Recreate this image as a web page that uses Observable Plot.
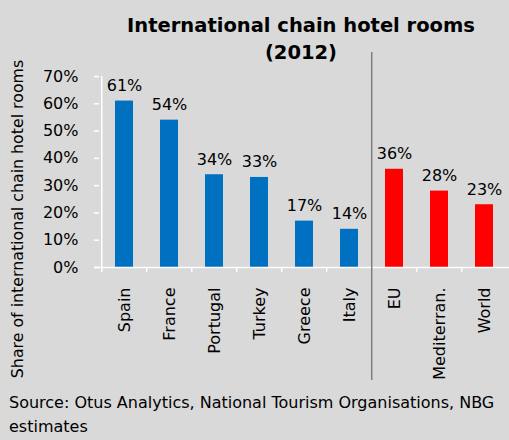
<!DOCTYPE html>
<html>
<head>
<meta charset="utf-8">
<script src="https://cdn.jsdelivr.net/npm/d3@7"></script>
<script src="https://cdn.jsdelivr.net/npm/@observablehq/plot@0.6"></script>
<style>
  html, body { margin: 0; padding: 0; background: #d9d9d9; }
  #wrap { position: relative; width: 509px; height: 440px; background: #d9d9d9; overflow: hidden; font-family: "DejaVu Sans", sans-serif; }
  #chart { position: absolute; left: 0; top: 0; }
  #title { position: absolute; left: 101px; width: 400px; top: 12px; text-align: center; font-weight: bold; font-size: 19.5px; line-height: 27px; color: #000; }
  #source { position: absolute; left: 9px; top: 391px; font-size: 16px; line-height: 24px; color: #000; white-space: nowrap; transform-origin: 0 0; }
</style>
</head>
<body>
<div id="wrap">
  <div id="chart"></div>
  <div id="title">International chain hotel rooms<br>(2012)</div>
  <div id="source">Source: Otus Analytics, National Tourism Organisations, NBG<br>estimates</div>
</div>
<script>
const categories = ["Spain", "France", "Portugal", "Turkey", "Greece", "Italy", "EU", "Mediterran.", "World"];
const values = [61, 54, 34, 33, 17, 14, 36, 28, 23];
const groups = ["country", "country", "country", "country", "country", "country", "aggregate", "aggregate", "aggregate"];
const yTicks = [0, 10, 20, 30, 40, 50, 60, 70];
const yLabel = "Share of international chain hotel rooms";

const data = categories.map((c, i) => ({category: c, value: values[i], group: groups[i]}));

const W = 509, H = 390, mL = 99, mR = 0, mT = 76, mB = 123;
const pInner = 0.6, pOuter = 0.3;
const step = (W - mL - mR) / (categories.length - pInner + 2 * pOuter);

const plot = Plot.plot({
  width: W,
  height: H,
  marginLeft: mL,
  marginRight: mR,
  marginTop: mT,
  marginBottom: mB,
  style: {background: "#d9d9d9", fontFamily: "DejaVu Sans, sans-serif", fontSize: "16px", color: "#000"},
  x: {domain: categories, paddingInner: pInner, paddingOuter: pOuter},
  y: {domain: [0, 70]},
  color: {domain: ["country", "aggregate"], range: ["#0070c0", "#ff0000"]},
  marks: [
    Plot.barY(data, {x: "category", y: "value", fill: "group"}),
    // axes lines
    Plot.ruleY([0], {stroke: "white", strokeWidth: 1.5, insetLeft: -5}),
    Plot.ruleX([categories[0]], {x: d => d, dx: -step / 2, y1: 0, y2: 70, stroke: "white", strokeWidth: 1.5}),
    // x category boundary ticks
    Plot.ruleX(categories.filter(c => c !== "EU"), {x: d => d, dx: -step / 2, y1: 0, y2: 0, insetBottom: -5, stroke: "white", strokeWidth: 1.5}),
    // separator
    Plot.ruleX(["EU"], {x: d => d, dx: -step / 2, stroke: "#7f7f7f", strokeWidth: 1.5, insetTop: -24, insetBottom: -113}),
    Plot.axisY({ticks: yTicks, tickSize: 5, tickPadding: 16, stroke: "white", strokeWidth: 1.5, fill: "#000", tickFormat: d => d + "%", label: null}),
    Plot.axisX({tickSize: 0, tickPadding: 20, tickRotate: -90, fill: "#000", label: null}),
    Plot.text(data, {x: "category", y: "value", text: d => d.value + "%", lineAnchor: "bottom", dy: -10, fill: "#000"}),
    Plot.text([yLabel], {frameAnchor: "left", textAnchor: "middle", rotate: -90, dx: -82, dy: 47, fontSize: 15.8, fill: "#000"})
  ]
});
document.getElementById("chart").appendChild(plot);
</script>
</body>
</html>
